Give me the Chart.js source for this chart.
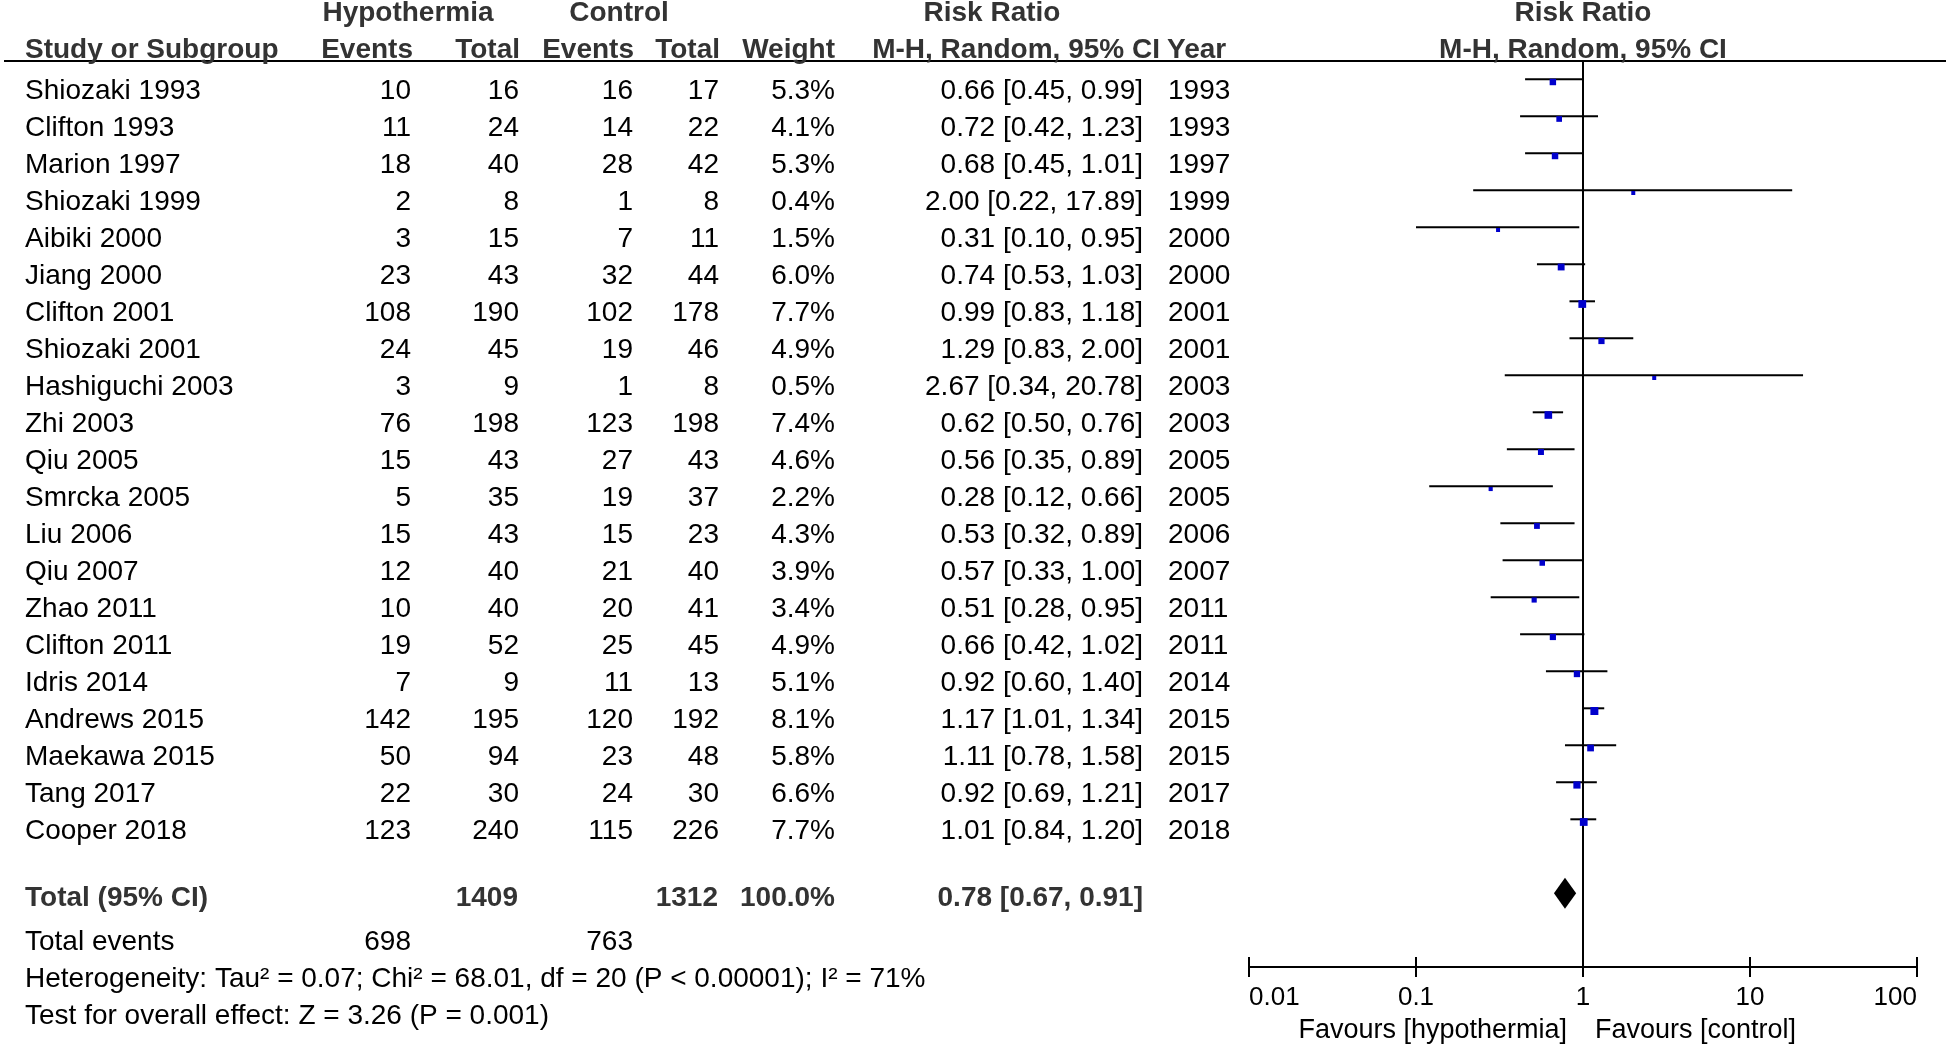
<!DOCTYPE html>
<html>
<head>
<meta charset="utf-8">
<script src="https://cdn.jsdelivr.net/npm/chart.js@4/dist/chart.umd.min.js"></script>
<style>
  body { margin: 0; background: #fff; }
  canvas { display: block; }
</style>
</head>
<body>
<canvas id="forest" width="1946" height="1047"></canvas>
<script>
// dados do forest plot
const studies = ["Shiozaki 1993", "Clifton 1993", "Marion 1997", "Shiozaki 1999", "Aibiki 2000", "Jiang 2000",
  "Clifton 2001", "Shiozaki 2001", "Hashiguchi 2003", "Zhi 2003", "Qiu 2005", "Smrcka 2005", "Liu 2006",
  "Qiu 2007", "Zhao 2011", "Clifton 2011", "Idris 2014", "Andrews 2015", "Maekawa 2015", "Tang 2017", "Cooper 2018"];
const hypoEvents = [10, 11, 18, 2, 3, 23, 108, 24, 3, 76, 15, 5, 15, 12, 10, 19, 7, 142, 50, 22, 123];
const hypoTotal = [16, 24, 40, 8, 15, 43, 190, 45, 9, 198, 43, 35, 43, 40, 40, 52, 9, 195, 94, 30, 240];
const ctrlEvents = [16, 14, 28, 1, 7, 32, 102, 19, 1, 123, 27, 19, 15, 21, 20, 25, 11, 120, 23, 24, 115];
const ctrlTotal = [17, 22, 42, 8, 11, 44, 178, 46, 8, 198, 43, 37, 23, 40, 41, 45, 13, 192, 48, 30, 226];
const weights = [5.3, 4.1, 5.3, 0.4, 1.5, 6.0, 7.7, 4.9, 0.5, 7.4, 4.6, 2.2, 4.3, 3.9, 3.4, 4.9, 5.1, 8.1, 5.8, 6.6, 7.7];
const riskRatio = [0.66, 0.72, 0.68, 2.00, 0.31, 0.74, 0.99, 1.29, 2.67, 0.62, 0.56, 0.28, 0.53, 0.57, 0.51, 0.66, 0.92, 1.17, 1.11, 0.92, 1.01];
const ciLow = [0.45, 0.42, 0.45, 0.22, 0.10, 0.53, 0.83, 0.83, 0.34, 0.50, 0.35, 0.12, 0.32, 0.33, 0.28, 0.42, 0.60, 1.01, 0.78, 0.69, 0.84];
const ciHigh = [0.99, 1.23, 1.01, 17.89, 0.95, 1.03, 1.18, 2.00, 20.78, 0.76, 0.89, 0.66, 0.89, 1.00, 0.95, 1.02, 1.40, 1.34, 1.58, 1.21, 1.20];
const years = [1993, 1993, 1997, 1999, 2000, 2000, 2001, 2001, 2003, 2003, 2005, 2005, 2006, 2007, 2011, 2011, 2014, 2015, 2015, 2017, 2018];

// totais
const totalHypo = 1409;
const totalCtrl = 1312;
const totalWeight = 100.0;
const totalEvHypo = 698;
const totalEvCtrl = 763;
const pooled = [0.78, 0.67, 0.91];
const heterogeneity = "Heterogeneity: Tau² = 0.07; Chi² = 68.01, df = 20 (P < 0.00001); I² = 71%";
const overallTest = "Test for overall effect: Z = 3.26 (P = 0.001)";

// eixo
const tickValues = [0.01, 0.1, 1, 10, 100];
const tickLabels = ["0.01", "0.1", "1", "10", "100"];

// layout (px)
const W = 1946, H = 1047;
const TOP_PX = 61, AXIS_PX = 967, ROW0_PX = 82, ROW_PX = 37;
const X_LEFT = 1249, X_RIGHT = 1917;
const FONT = '"Liberation Sans", Arial, Helvetica, sans-serif';

function txt(ctx, s, x, y, align, bold, size, color) {
    ctx.font = (bold ? 'bold ' : '') + (size || 28) + 'px ' + FONT;
    ctx.textAlign = align;
    ctx.textBaseline = 'alphabetic';
    ctx.fillStyle = color || (bold ? '#333' : '#000');
    ctx.fillText(s, x, y);
}

// linhas dos intervalos, linha vertical e diamante
const forestLines = {
    id: 'forestLines',
    beforeDatasetsDraw(chart) {
        const ctx = chart.ctx;
        const x = chart.scales.x, y = chart.scales.y;
        ctx.save();
        ctx.strokeStyle = '#000';
        ctx.lineWidth = 2;

        // linha de nenhum efeito
        const x1 = Math.round(x.getPixelForValue(1));
        ctx.beginPath();
        ctx.moveTo(x1, TOP_PX);
        ctx.lineTo(x1, AXIS_PX);
        ctx.stroke();

        for (let i = 0; i < studies.length; i++) {
            const py = y.getPixelForValue(i) - 2.7;
            ctx.beginPath();
            ctx.moveTo(x.getPixelForValue(ciLow[i]), py);
            ctx.lineTo(x.getPixelForValue(ciHigh[i]), py);
            ctx.stroke();
        }

        // diamante do total
        const dy = y.getPixelForValue(studies.length + 1) - 2.7;
        ctx.fillStyle = '#000';
        ctx.beginPath();
        ctx.moveTo(x.getPixelForValue(pooled[1]), dy);
        ctx.lineTo(x.getPixelForValue(pooled[0]), dy - 15.5);
        ctx.lineTo(x.getPixelForValue(pooled[2]), dy);
        ctx.lineTo(x.getPixelForValue(pooled[0]), dy + 15.5);
        ctx.closePath();
        ctx.fill();
        ctx.restore();
    },
    afterDraw(chart) {
        const ctx = chart.ctx;
        const x = chart.scales.x, y = chart.scales.y;
        ctx.save();

        // linha do cabeçalho
        ctx.strokeStyle = '#000';
        ctx.lineWidth = 2;
        ctx.beginPath();
        ctx.moveTo(4, TOP_PX);
        ctx.lineTo(W, TOP_PX);
        ctx.stroke();

        // eixo x
        ctx.beginPath();
        ctx.moveTo(x.getPixelForValue(tickValues[0]), AXIS_PX);
        ctx.lineTo(x.getPixelForValue(tickValues[tickValues.length - 1]), AXIS_PX);
        ctx.stroke();
        tickValues.forEach((v, k) => {
            const px = Math.round(x.getPixelForValue(v));
            ctx.beginPath();
            ctx.moveTo(px, AXIS_PX - 10);
            ctx.lineTo(px, AXIS_PX + 10);
            ctx.stroke();
            const align = k === 0 ? 'left' : (k === tickValues.length - 1 ? 'right' : 'center');
            txt(ctx, tickLabels[k], px, 1005, align, false, 26);
        });
        const xOne = x.getPixelForValue(1);
        txt(ctx, 'Favours [hypothermia]', xOne - 16, 1038, 'right', false, 27);
        txt(ctx, 'Favours [control]', xOne + 12, 1038, 'left', false, 27);

        // cabeçalho
        txt(ctx, 'Hypothermia', 408, 21, 'center', true);
        txt(ctx, 'Control', 619, 21, 'center', true);
        txt(ctx, 'Risk Ratio', 992, 21, 'center', true);
        txt(ctx, 'Risk Ratio', xOne, 21, 'center', true);
        txt(ctx, 'Study or Subgroup', 25, 58, 'left', true);
        txt(ctx, 'Events', 413, 58, 'right', true);
        txt(ctx, 'Total', 520, 58, 'right', true);
        txt(ctx, 'Events', 634, 58, 'right', true);
        txt(ctx, 'Total', 720, 58, 'right', true);
        txt(ctx, 'Weight', 835, 58, 'right', true);
        txt(ctx, 'M-H, Random, 95% CI', 1160, 58, 'right', true);
        txt(ctx, 'Year', 1167, 58, 'left', true);
        txt(ctx, 'M-H, Random, 95% CI', xOne, 58, 'center', true);

        // linhas dos estudos
        for (let i = 0; i < studies.length; i++) {
            const by = y.getPixelForValue(i) + 17;
            txt(ctx, studies[i], 25, by, 'left');
            txt(ctx, String(hypoEvents[i]), 411, by, 'right');
            txt(ctx, String(hypoTotal[i]), 519, by, 'right');
            txt(ctx, String(ctrlEvents[i]), 633, by, 'right');
            txt(ctx, String(ctrlTotal[i]), 719, by, 'right');
            txt(ctx, weights[i].toFixed(1) + '%', 835, by, 'right');
            txt(ctx, riskRatio[i].toFixed(2) + ' [' + ciLow[i].toFixed(2) + ', ' + ciHigh[i].toFixed(2) + ']', 1143, by, 'right');
            txt(ctx, String(years[i]), 1168, by, 'left');
        }

        // totais
        const n = studies.length;
        const tb = y.getPixelForValue(n + 1) + 10;
        txt(ctx, 'Total (95% CI)', 25, tb, 'left', true);
        txt(ctx, String(totalHypo), 518, tb, 'right', true);
        txt(ctx, String(totalCtrl), 718, tb, 'right', true);
        txt(ctx, totalWeight.toFixed(1) + '%', 835, tb, 'right', true);
        txt(ctx, pooled[0].toFixed(2) + ' [' + pooled[1].toFixed(2) + ', ' + pooled[2].toFixed(2) + ']', 1143, tb, 'right', true);

        const eb = y.getPixelForValue(n + 2) + 17;
        txt(ctx, 'Total events', 25, eb, 'left');
        txt(ctx, String(totalEvHypo), 411, eb, 'right');
        txt(ctx, String(totalEvCtrl), 633, eb, 'right');
        txt(ctx, heterogeneity, 25, y.getPixelForValue(n + 3) + 17, 'left');
        txt(ctx, overallTest, 25, y.getPixelForValue(n + 4) + 17, 'left');

        ctx.restore();
    }
};

const points = riskRatio.map((v, i) => ({ x: v, y: i }));
const squareRadius = c => Math.max(4, 2.8 * Math.sqrt(weights[c.dataIndex])) / Math.SQRT2;

new Chart(document.getElementById('forest'), {
    type: 'scatter',
    data: {
        datasets: [{
            data: points,
            pointStyle: 'rect',
            pointRadius: squareRadius,
            pointHoverRadius: squareRadius,
            pointBackgroundColor: '#0000cc',
            pointBorderWidth: 0
        }]
    },
    options: {
        responsive: false,
        devicePixelRatio: 1,
        animation: false,
        clip: false,
        layout: {
            padding: { left: X_LEFT, right: W - X_RIGHT, top: TOP_PX, bottom: H - AXIS_PX }
        },
        plugins: { legend: { display: false }, tooltip: { enabled: false } },
        scales: {
            x: { type: 'logarithmic', min: 0.01, max: 100, bounds: 'data', display: false },
            y: {
                type: 'linear', reverse: true, bounds: 'data', display: false,
                min: (TOP_PX - ROW0_PX) / ROW_PX,
                max: (AXIS_PX - ROW0_PX) / ROW_PX
            }
        }
    },
    plugins: [forestLines]
});
</script>
</body>
</html>
